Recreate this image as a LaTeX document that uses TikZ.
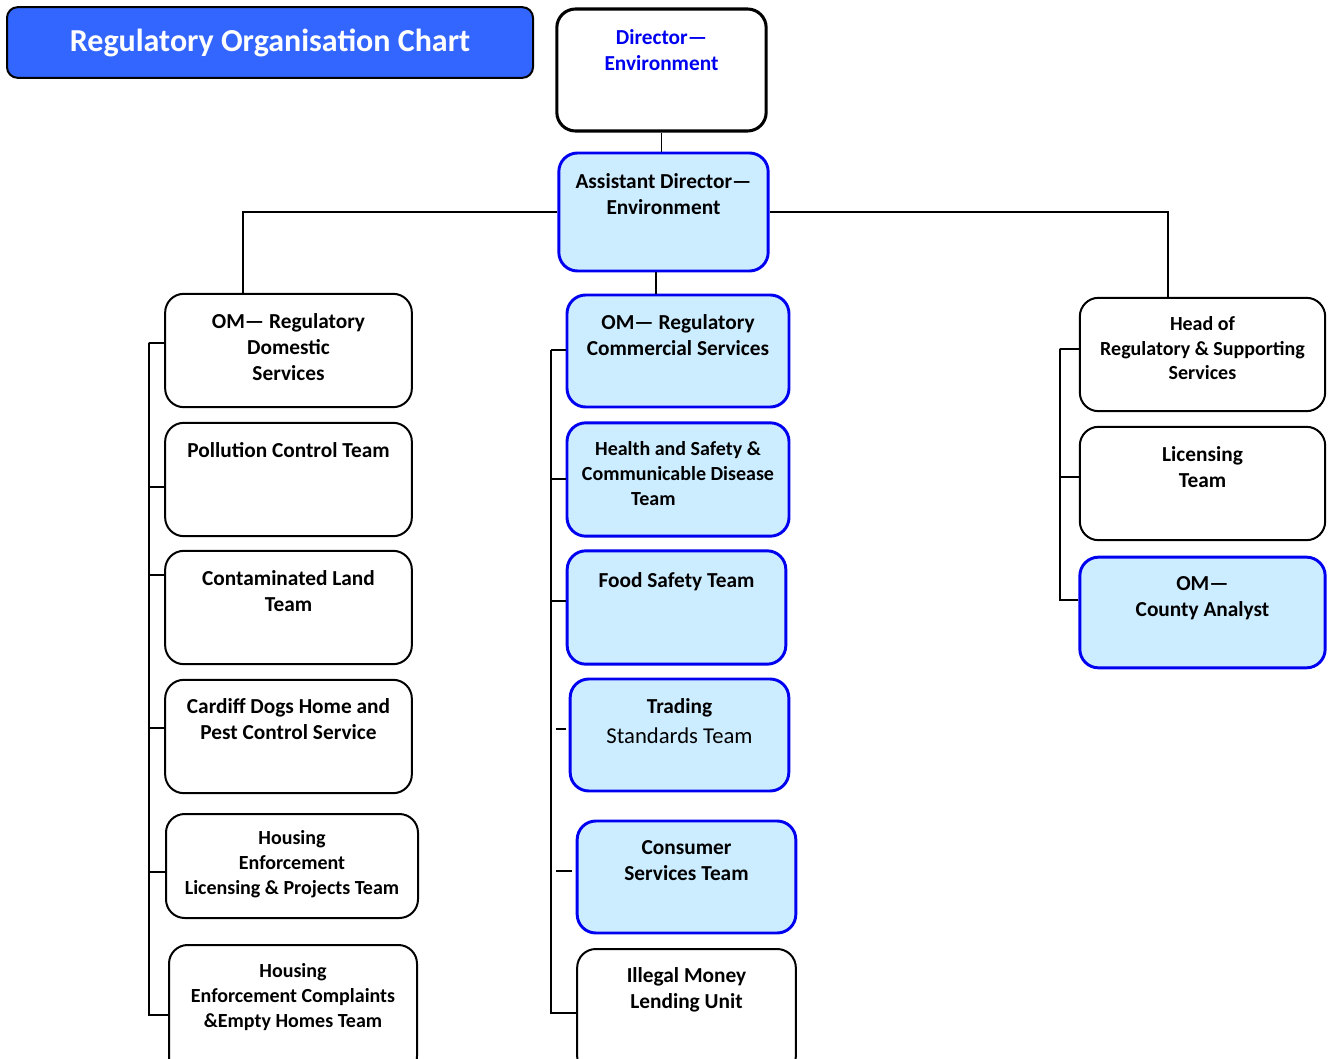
\documentclass[tikz,border=0pt]{standalone}
\usepackage{fontspec}
\setmainfont{Carlito}
\usetikzlibrary{calc}

\definecolor{titleblue}{HTML}{3366FF}
\definecolor{paleblue}{HTML}{CCECFF}
\definecolor{edgeblue}{HTML}{0000F0}

\begin{document}
\begin{tikzpicture}[
  x=0.75pt, y=-0.75pt,
  link/.style={line width=1.1pt},
  unit/.style={draw, line width=1.5pt, rounded corners=14pt, fill=white, inner sep=0pt},
  blueunit/.style={unit, draw=edgeblue, fill=paleblue, line width=2.2pt},
  txt/.style={anchor=north, align=center, inner sep=0pt,
    font=\bfseries\fontsize{16}{19.5}\selectfont, execute at begin node=\rule{0pt}{12pt}},
  smalltxt/.style={txt, font=\bfseries\fontsize{15}{18.5}\selectfont}
]
\useasboundingbox (0,0) rectangle (1332,1059);

% top of the chart
\node[draw, line width=1.5pt, rounded corners=8pt, fill=titleblue, text=white,
  minimum width=394.5pt, minimum height=53pt, font=\bfseries\fontsize{24}{28}\selectfont]
  (title) at (270,42.5) {Regulatory Organisation Chart};
\node[unit, line width=2.3pt, minimum width=157pt, minimum height=91.5pt,
  label={[txt, text=edgeblue, yshift=-16pt]north:Director—\\Environment}] (dir) at (661.5,70) {};
\node[blueunit, minimum width=157pt, minimum height=88.5pt,
  label={[txt, yshift=-16pt]north:Assistant Director—\\Environment}] (ad) at (663.5,212) {};

% left column
\node[unit, minimum width=185pt, minimum height=85pt,
  label={[txt, yshift=-15.5pt]north:OM— Regulatory\\Domestic\\Services}] (dom) at (288.5,350.5) {};
\node[unit, minimum width=185pt, minimum height=85pt,
  label={[txt, yshift=-14.25pt]north:Pollution Control Team}] (pol) at (288.5,479.5) {};
\node[unit, minimum width=185pt, minimum height=85pt,
  label={[txt, yshift=-15.5pt]north:Contaminated Land\\Team}] (con) at (288.5,607.5) {};
\node[unit, minimum width=185pt, minimum height=85pt,
  label={[txt, yshift=-14.75pt]north:Cardiff Dogs Home and\\Pest Control Service}] (dog) at (288.5,736.5) {};
\node[unit, minimum width=189pt, minimum height=78pt,
  label={[smalltxt, yshift=-13.25pt]north:Housing\\Enforcement\\Licensing \& Projects Team}] (hel) at (292,866) {};
\node[unit, minimum width=186pt, minimum height=97.5pt,
  label={[smalltxt, yshift=-14.75pt]north:Housing\\Enforcement Complaints\\\&Empty Homes Team}] (hec) at (293,1010) {};

% middle column
\node[blueunit, minimum width=166.5pt, minimum height=84pt,
  label={[txt, yshift=-15.5pt]north:OM— Regulatory\\Commercial Services}] (com) at (678,351) {};
\node[blueunit, minimum width=166.5pt, minimum height=85pt,
  label={[smalltxt, yshift=-15pt]north:Health and Safety \&\\Communicable Disease\\Team\hspace*{37pt}}] (hsc) at (678,479.5) {};
\node[blueunit, minimum width=164pt, minimum height=85pt,
  label={[txt, yshift=-16.25pt]north:Food Safety Team}] (food) at (676.5,607.5) {};
\node[blueunit, minimum width=164pt, minimum height=84pt,
  label={[txt, yshift=-15.5pt]north:Trading\\[3pt]\mdseries\fontsize{17}{19.5}\selectfont Standards Team}] (trd) at (679.5,735) {};
\node[blueunit, minimum width=164pt, minimum height=84pt,
  label={[txt, yshift=-15.5pt]north:Consumer\\Services Team}] (cons) at (686.5,877) {};
\node[unit, minimum width=164pt, minimum height=94.5pt,
  label={[txt, yshift=-14.75pt]north:Illegal Money\\Lending Unit}] (iml) at (686.5,1012) {};

% right column
\node[unit, minimum width=184pt, minimum height=85pt,
  label={[smalltxt, yshift=-14.5pt]north:Head of\\Regulatory \& Supporting\\Services}] (head) at (1202.5,354.5) {};
\node[unit, minimum width=184pt, minimum height=85pt,
  label={[txt, yshift=-15.5pt]north:Licensing\\Team}] (lic) at (1202.5,483.5) {};
\node[blueunit, minimum width=184pt, minimum height=83pt,
  label={[txt, yshift=-15.5pt]north:OM—\\County Analyst}] (cty) at (1202.5,612.5) {};

% connectors
\draw[link] (dir.south) -- (dir.south |- ad.north);
\draw[link] ([xshift=-5.6pt]ad.south) -- ([xshift=-5.6pt]ad.south |- com.north);
\draw[link] (ad.west) -| ([xshift=-34pt]dom.north);
\draw[link] (ad.east) -| ([xshift=-26pt]head.north);

\coordinate (lsp) at (149,343);
\foreach \n/\dy in {dom/5.6, pol/-5.6, con/24.4, dog/6.4, hel/-4.5, hec/-3.75}
  \draw[link] ([yshift=\dy pt]\n.west) -| (lsp);

\coordinate (msp) at (551,350);
\foreach \n/\dy in {com/0.75, hsc/0.4, food/4.9, iml/-0.75}
  \draw[link] ([yshift=\dy pt]\n.west) -| (msp);
\draw[link] ([xshift=-2.25pt, yshift=4.5pt]trd.west) -- +(-10,0);
\draw[link] ([xshift=-3pt, yshift=4.5pt]cons.west) -- +(-16,0);

\coordinate (rsp) at (1060,349);
\foreach \n/\dy in {head/4.1, lic/4.9, cty/9.4}
  \draw[link] ([yshift=\dy pt]\n.west) -| (rsp);
\end{tikzpicture}
\end{document}
